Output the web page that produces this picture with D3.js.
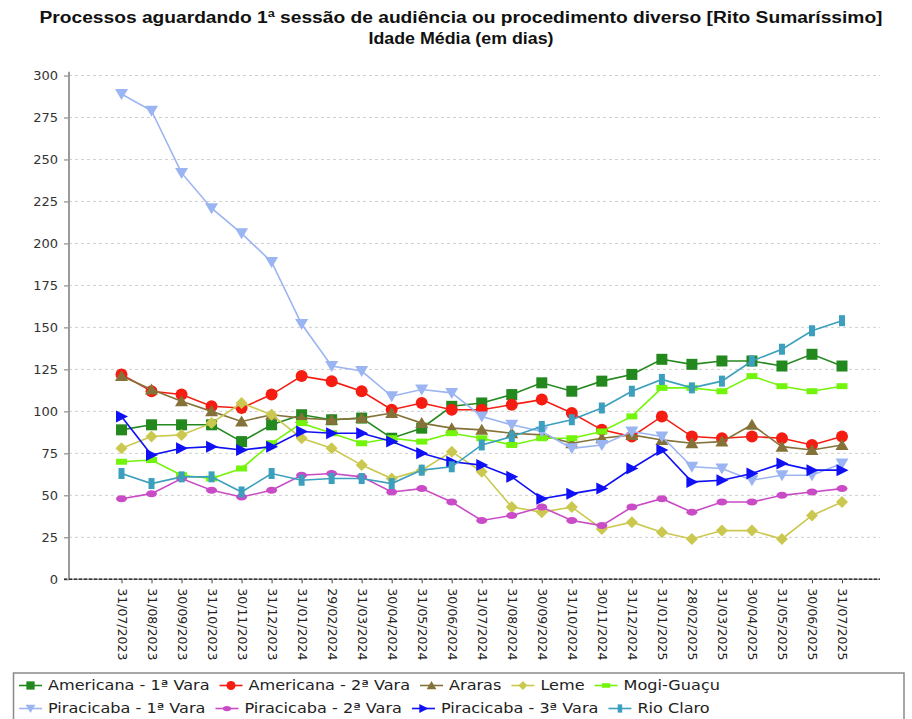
<!DOCTYPE html>
<html>
<head>
<meta charset="utf-8">
<script src="https://cdn.jsdelivr.net/npm/d3@7"></script>
<style>
  body { margin: 0; background: #fff; }
  svg { display: block; }
</style>
</head>
<body>
<div id="chart"></div>
<script>
// categories (month ends)
const dates = [
  "31/07/2023", "31/08/2023", "30/09/2023", "31/10/2023", "30/11/2023", "31/12/2023",
  "31/01/2024", "29/02/2024", "31/03/2024", "30/04/2024", "31/05/2024", "30/06/2024",
  "31/07/2024", "31/08/2024", "30/09/2024", "31/10/2024", "30/11/2024", "31/12/2024",
  "31/01/2025", "28/02/2025", "31/03/2025", "30/04/2025", "31/05/2025", "30/06/2025",
  "31/07/2025"
];

// average age in days, one array per court
const americana1 = [89, 92, 92, 92, 82, 92, 98, 95, 96, 84, 90, 103, 105, 110, 117, 112, 118, 122, 131, 128, 130, 130, 127, 134, 127];
const americana2 = [122, 112, 110, 103, 102, 110, 121, 118, 112, 101, 105, 101, 101, 104, 107, 99, 89, 85, 97, 85, 84, 85, 84, 80, 85];
const araras = [121, 113, 106, 100, 94, 98, 96, 95, 96, 99, 93, 90, 89, 87, 86, 81, 84, 86, 83, 81, 82, 92, 79, 77, 80];
const leme = [78, 85, 86, 93, 105, 98, 84, 78, 68, 60, 65, 76, 64, 43, 40, 43, 30, 34, 28, 24, 29, 29, 24, 38, 46];
const mogiGuacu = [70, 71, 62, 60, 66, 81, 93, 87, 81, 84, 82, 87, 84, 80, 84, 84, 88, 97, 114, 114, 112, 121, 115, 112, 115];
const piracicaba1 = [289, 279, 242, 221, 206, 189, 152, 127, 124, 109, 113, 111, 97, 92, 88, 78, 80, 88, 85, 67, 66, 59, 62, 62, 69];
const piracicaba2 = [48, 51, 60, 53, 49, 53, 62, 63, 61, 52, 54, 46, 35, 38, 43, 35, 32, 43, 48, 40, 46, 46, 50, 52, 54];
const piracicaba3 = [97, 74, 78, 79, 77, 79, 88, 87, 87, 82, 75, 70, 68, 61, 48, 51, 54, 66, 77, 58, 59, 63, 69, 65, 65];
const rioClaro = [63, 57, 61, 61, 52, 63, 59, 60, 60, 57, 65, 67, 80, 85, 91, 95, 102, 112, 119, 114, 118, 130, 137, 148, 154];

const seriesNames = [
  "Americana - 1ª Vara", "Americana - 2ª Vara", "Araras", "Leme", "Mogi-Guaçu",
  "Piracicaba - 1ª Vara", "Piracicaba - 2ª Vara", "Piracicaba - 3ª Vara", "Rio Claro"
];
const yTicks = [0, 25, 50, 75, 100, 125, 150, 175, 200, 225, 250, 275, 300];

const titleLines = [
  "Processos aguardando 1ª sessão de audiência ou procedimento diverso [Rito Sumaríssimo]",
  "Idade Média (em dias)"
];

const seriesValues = [americana1, americana2, araras, leme, mogiGuacu, piracicaba1, piracicaba2, piracicaba3, rioClaro];
const colors = ["#23891f", "#f51d12", "#857238", "#cbc850", "#72f50a", "#9bb5f2", "#c94bc6", "#1010f5", "#3b9fbd"];
const markers = ["square", "circle", "triangle", "diamond", "bar", "down", "ellipse", "right", "vbar"];

const series = seriesNames.map((name, i) => ({
  name,
  values: seriesValues[i],
  color: colors[i],
  marker: markers[i]
}));

const width = 912;
const height = 719;

const svg = d3.select("#chart")
  .append("svg")
  .attr("width", width)
  .attr("height", height);

svg.append("rect").attr("width", width).attr("height", height).attr("fill", "#fff");

const x = d3.scalePoint()
  .domain(dates)
  .range([121.5, 842]);

const y = d3.scaleLinear()
  .domain([0, 300])
  .range([579.3, 75.5]);

const plotLeft = 69;
const plotRight = 880;

// title
svg.selectAll(".title")
  .data(titleLines)
  .enter()
  .append("text")
  .attr("class", "title")
  .attr("x", 461)
  .attr("y", (d, i) => 22.5 + i * 21)
  .attr("text-anchor", "middle")
  .attr("textLength", (d, i) => i === 0 ? 843 : 185)
  .attr("lengthAdjust", "spacingAndGlyphs")
  .style("font-family", "'Liberation Sans Narrow', 'Liberation Sans', Arial, sans-serif")
  .style("font-weight", "bold")
  .style("font-size", "16px")
  .style("fill", "#111")
  .text(d => d);

// grid
svg.append("g")
  .selectAll("line")
  .data(yTicks.filter(t => t > 0))
  .enter()
  .append("line")
  .attr("x1", plotLeft)
  .attr("x2", plotRight)
  .attr("y1", d => y(d))
  .attr("y2", d => y(d))
  .attr("stroke", "#cfcfcf")
  .attr("stroke-width", 1)
  .attr("stroke-dasharray", "3,3");

// y axis
const yAxis = svg.append("g")
  .attr("transform", `translate(${plotLeft},0)`)
  .call(d3.axisLeft(y).tickValues(yTicks).tickSize(5).tickPadding(6));
yAxis.select(".domain").remove();
yAxis.selectAll(".tick line").attr("stroke", "#777");
yAxis.selectAll(".tick text")
  .style("font-family", "'DejaVu Sans', sans-serif")
  .style("font-size", "13px")
  .attr("fill", "#333");
svg.append("line")
  .attr("x1", plotLeft).attr("x2", plotLeft)
  .attr("y1", 71.7).attr("y2", y(0))
  .attr("stroke", "#9a9a9a")
  .attr("stroke-width", 2);

// x axis
const xAxis = svg.append("g")
  .attr("transform", `translate(0,${y(0)})`)
  .call(d3.axisBottom(x).tickSize(4));
xAxis.select(".domain").remove();
xAxis.selectAll(".tick line").attr("stroke", "#444");
xAxis.selectAll(".tick text")
  .attr("transform", "rotate(90)")
  .attr("x", 9)
  .attr("y", 0)
  .attr("dy", "0.35em")
  .style("text-anchor", "start")
  .style("font-family", "'DejaVu Sans', sans-serif")
  .style("font-size", "12.5px")
  .attr("fill", "#222");
svg.append("line")
  .attr("x1", 64).attr("x2", plotRight)
  .attr("y1", y(0)).attr("y2", y(0))
  .attr("stroke", "#9a9a9a")
  .attr("stroke-width", 1.5);
svg.append("line")
  .attr("x1", 64).attr("x2", plotRight)
  .attr("y1", y(0)).attr("y2", y(0))
  .attr("stroke", "#333")
  .attr("stroke-width", 1.5)
  .attr("stroke-dasharray", "3,2");

// marker shapes
function drawMarker(g, type, color, k = 1) {
  let el;
  switch (type) {
    case "square":
      el = g.append("rect").attr("x", -5.5 * k).attr("y", -5.5 * k).attr("width", 11 * k).attr("height", 11 * k);
      break;
    case "circle":
      el = g.append("circle").attr("r", 6 * k);
      break;
    case "triangle":
      el = g.append("path").attr("d", `M0,${-6 * k}L${6.5 * k},${5 * k}L${-6.5 * k},${5 * k}Z`);
      break;
    case "diamond":
      el = g.append("path").attr("d", `M0,${-6 * k}L${6 * k},0L0,${6 * k}L${-6 * k},0Z`);
      break;
    case "bar":
      el = g.append("rect").attr("x", -5.5 * k).attr("y", -3 * k).attr("width", 11 * k).attr("height", 6 * k);
      break;
    case "down":
      el = g.append("path").attr("d", `M${-6.5 * k},${-5 * k}L${6.5 * k},${-5 * k}L0,${6 * k}Z`);
      break;
    case "ellipse":
      el = g.append("ellipse").attr("rx", 5.5 * k).attr("ry", 3.5 * k);
      break;
    case "right":
      el = g.append("path").attr("d", `M${-5.5 * k},${-6 * k}L${6.5 * k},0L${-5.5 * k},${6 * k}Z`);
      break;
    case "vbar":
      el = g.append("rect").attr("x", -3 * k).attr("y", -5.5 * k).attr("width", 6 * k).attr("height", 11 * k);
      break;
  }
  el.attr("fill", color);
}

const line = d3.line()
  .x((d, i) => x(dates[i]))
  .y(d => y(d));

const seriesG = svg.append("g")
  .selectAll("g")
  .data(series)
  .enter()
  .append("g");

seriesG.append("path")
  .attr("d", d => line(d.values))
  .attr("fill", "none")
  .attr("stroke", d => d.color)
  .attr("stroke-width", 1.6);

seriesG.each(function(s) {
  const g = d3.select(this);
  s.values.forEach((v, i) => {
    const m = g.append("g").attr("transform", `translate(${x(dates[i])},${y(v)})`);
    drawMarker(m, s.marker, s.color);
  });
});

// legend
svg.append("rect")
  .attr("x", 13.5)
  .attr("y", 673)
  .attr("width", 890.5)
  .attr("height", 60)
  .attr("fill", "#fff")
  .attr("stroke", "#8a8a8a")
  .attr("stroke-width", 1.5);

const legendRows = [series.slice(0, 5), series.slice(5)];
const rowY = [685.5, 708.5];
const stretch = 1.15;

legendRows.forEach((row, r) => {
  let cx = 19;
  row.forEach(s => {
    const item = svg.append("g");
    item.append("line")
      .attr("x1", cx).attr("x2", cx + 23)
      .attr("y1", rowY[r]).attr("y2", rowY[r])
      .attr("stroke", s.color)
      .attr("stroke-width", 1.6);
    const m = item.append("g").attr("transform", `translate(${cx + 11.5},${rowY[r]})`);
    drawMarker(m, s.marker, s.color, 0.75);
    const tg = item.append("g").attr("transform", `translate(${cx + 29},${rowY[r]}) scale(${stretch},1)`);
    const t = tg.append("text")
      .attr("dy", "0.35em")
      .style("font-family", "'DejaVu Sans', sans-serif")
      .style("font-size", "14px")
      .attr("fill", "#222")
      .text(s.name);
    const w = t.node().getComputedTextLength() * stretch;
    cx = cx + 29 + w + 10;
  });
});
</script>
</body>
</html>
